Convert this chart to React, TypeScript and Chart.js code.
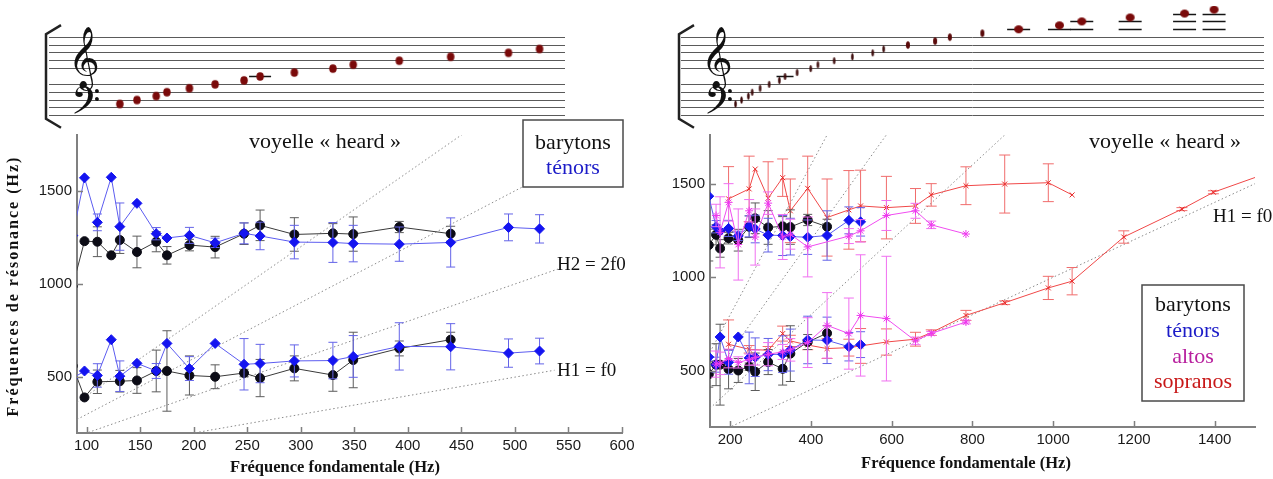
import React, { useEffect, useRef } from 'react';
import { Chart, registerables } from 'chart.js';
Chart.register(...registerables);

// ===================== DATA =====================
// Men (barytons / ténors): fundamental frequency f0 (Hz)
const menF0 = [87, 98, 110, 123, 131, 147, 165, 175, 196, 220, 247, 262, 294, 330, 349, 392, 440, 494, 523];
const barytonsR2 = [990, 1230, 1227, 1154, 1236, 1172, 1227, 1154, 1209, 1198, 1270, 1315, 1266, 1272, 1268, 1306, 1270, null, null];
const barytonsR2Err = [0, 0, 80, 0, 72, 85, 54, 47, 31, 58, 58, 82, 90, 52, 92, 30, 40, 0, 0];
const barytonsR1 = [560, 391, 475, null, 478, 482, 533, 533, 509, 502, 522, 495, 547, 511, 592, 654, 701, null, null];
const barytonsR1Err = [0, 0, 63, 0, 58, 69, 112, 216, 105, 64, 20, 100, 67, 87, 149, 40, 40, 0, 0];
const tenorsR2 = [1260, 1570, 1331, 1573, 1308, 1433, 1270, 1247, 1261, 1221, 1272, 1258, 1225, 1223, 1217, 1214, 1223, 1304, 1296];
const tenorsR2Err = [0, 0, 45, 0, 127, 0, 33, 0, 43, 25, 56, 74, 90, 107, 98, 92, 132, 72, 76];
const tenorsR1 = [494, 533, 509, 701, 505, 574, 533, 681, 546, 681, 569, 573, 587, 589, 611, 665, 663, 629, 640];
const tenorsR1Err = [0, 0, 63, 0, 82, 0, 40, 0, 64, 0, 138, 103, 86, 98, 112, 127, 124, 76, 69];

// Altos
const altosF0 = [165, 175, 196, 220, 247, 262, 294, 330, 349, 392, 440, 494, 523, 587, 659, 698, 784];
const altosR2 = [1330, 1240, 1400, 1175, 1355, 1215, 1396, 1215, 1230, 1162, null, 1220, 1248, 1330, 1355, 1280, 1231];
const altosR2Err = [60, 190, 100, 190, 60, 150, 60, 120, 80, 160, 0, 40, 60, 80, 40, 20, 0];
const altosR1 = [536, 540, 566, 545, 560, 571, 589, 601, 612, 651, 743, 699, 796, 779, 660, 700, 761];
const altosR1Err = [70, 60, 50, 30, 30, 40, 62, 40, 60, 133, 175, 190, 324, 333, 20, 10, 10];

// Sopranos
const sopranosF0 = [196, 247, 262, 294, 330, 349, 392, 440, 494, 523, 587, 659, 698, 784, 880, 988, 1047, 1175, 1319, 1397, 1568];
const sopranosR2 = [1419, 1472, 1578, 1422, 1532, 1355, 1475, 1319, 1360, 1381, 1372, 1381, 1440, 1489, 1498, 1505, 1440, null, null, null, null];
const sopranosR2Err = [172, 175, 0, 195, 100, 170, 172, 206, 210, 191, 167, 93, 60, 101, 155, 101, 0, 0, 0, 0, 0];
const sopranosR1 = [642, 615, null, 610, 699, 660, 638, 619, 624, 633, 654, 669, 704, 796, 864, 943, 979, 1215, 1364, 1454, 1585];
const sopranosR1Err = [130, 20, 0, 20, 40, 30, 25, 53, 45, 93, 70, 37, 15, 27, 10, 62, 73, 33, 8, 8, 0];

// Axis ticks
const leftXTicks = [100, 150, 200, 250, 300, 350, 400, 450, 500, 550, 600];
const rightXTicks = [200, 400, 600, 800, 1000, 1200, 1400];
const yTicks = [500, 1000, 1500];

// Harmonic reference lines Hn = n·f0 (rank, end of the drawn line in f0)
const harmonicRanks = [1, 2, 3, 4];
const leftHarmonicEnd = [537, 540, 600, 460];
const rightHarmonicEnd = [1500, 900, 600, 450];

// Staff notes (pitch names and their f0)
const leftStaffNotes = ['C3', 'D3', 'E3', 'F3', 'G3', 'A3', 'B3', 'C4', 'D4', 'E4', 'F4', 'G4', 'A4', 'B4', 'C5'];
const leftStaffF0 = [131, 147, 165, 175, 196, 220, 247, 262, 294, 330, 349, 392, 440, 494, 523];
const rightStaffNotes = ['C3', 'D3', 'E3', 'F3', 'G3', 'A3', 'B3', 'C4', 'D4', 'E4', 'F4', 'G4', 'A4', 'B4', 'C5', 'D5', 'E5', 'F5', 'G5', 'A5', 'B5', 'C6', 'D6', 'E6', 'F6'];
const rightStaffF0 = [131, 147, 165, 175, 196, 220, 247, 262, 294, 330, 349, 392, 440, 494, 523, 587, 659, 698, 784, 880, 988, 1047, 1175, 1319, 1397];
const staffLineSteps = [0, 2, 4, 6, 8, 12, 14, 16, 18, 20];

// ===================== HELPERS =====================
const SERIF = '"Liberation Serif", "Times New Roman", serif';
const SANS = '"Liberation Sans", Arial, sans-serif';

function pts(f0: number[], v: (number | null)[], e: number[]) {
  return f0.map((x, i) => ({ x, y: v[i], err: e[i] })).filter((p) => p.y !== null && p.y !== undefined);
}

type Sty = { line: string; fill: string; style: string; r: number; err: string; cap?: number };
const BAR: Sty = { line: '#3a3a3a', fill: '#0c0c16', style: 'circle', r: 4.5, err: '#5c5c5c' };
const TEN: Sty = { line: '#5c5cf0', fill: '#1414f0', style: 'rectRot', r: 5, err: '#6464e8' };
const ALT: Sty = { line: '#f04cf0', fill: '#ee38ee', style: 'star', r: 4, err: '#f070f0', cap: 5 };
const SOP: Sty = { line: '#f04848', fill: '#e82828', style: 'crossRot', r: 3.5, err: '#f06c6c', cap: 5.5 };

function series(label: string, data: any[], s: Sty) {
  return {
    label,
    data,
    showLine: true,
    borderColor: s.line,
    borderWidth: 1,
    backgroundColor: s.fill,
    pointBackgroundColor: s.fill,
    pointBorderColor: s.fill,
    pointBorderWidth: 1,
    pointStyle: s.style,
    pointRadius: s.r,
    errorColor: s.err,
    capHalf: s.cap ?? 4.5,
    tension: 0,
    clip: 0,
  };
}

function harmonics(xMin: number, ends: number[]) {
  return harmonicRanks.map((n, i) => ({
    label: 'H' + n,
    data: [
      { x: xMin, y: n * xMin },
      { x: ends[i], y: n * ends[i] },
    ],
    showLine: true,
    borderColor: '#8a8a8a',
    borderWidth: 1,
    borderDash: [1.5, 2.5],
    pointRadius: 0,
  }));
}

const errorBarPlugin = {
  id: 'errorBars',
  beforeDatasetDraw(chart: any, args: any) {
    const ds = chart.data.datasets[args.index];
    if (!ds.errorColor) return;
    const y = chart.scales.y;
    const a = chart.chartArea;
    const ctx = chart.ctx;
    ctx.save();
    ctx.beginPath();
    ctx.rect(a.left, a.top, a.right - a.left, a.bottom - a.top);
    ctx.clip();
    ctx.strokeStyle = ds.errorColor;
    ctx.lineWidth = 1;
    const cw = ds.capHalf;
    args.meta.data.forEach((pt: any, i: number) => {
      const d = ds.data[i];
      if (!d || !d.err) return;
      const t = y.getPixelForValue(d.y + d.err);
      const b = y.getPixelForValue(d.y - d.err);
      ctx.beginPath();
      ctx.moveTo(pt.x, t);
      ctx.lineTo(pt.x, b);
      ctx.moveTo(pt.x - cw, t);
      ctx.lineTo(pt.x + cw, t);
      ctx.moveTo(pt.x - cw, b);
      ctx.lineTo(pt.x + cw, b);
      ctx.stroke();
    });
    ctx.restore();
  },
};

const innerTicksPlugin = {
  id: 'innerTicks',
  afterDraw(chart: any) {
    const ctx = chart.ctx;
    const a = chart.chartArea;
    const xs = chart.scales.x;
    const ys = chart.scales.y;
    ctx.save();
    ctx.strokeStyle = '#808080';
    ctx.lineWidth = 1.5;
    ctx.beginPath();
    xs.ticks.forEach((t: any) => {
      const px = Math.round(xs.getPixelForValue(t.value)) + 0.5;
      ctx.moveTo(px, a.bottom);
      ctx.lineTo(px, a.bottom - 6);
    });
    ys.ticks.forEach((t: any) => {
      const py = Math.round(ys.getPixelForValue(t.value)) + 0.5;
      ctx.moveTo(a.left, py);
      ctx.lineTo(a.left + 6, py);
    });
    ctx.stroke();
    ctx.restore();
  },
};

type Txt = { text: string; x: number; y: number; font: string; color?: string; align?: CanvasTextAlign; rotate?: number; spacing?: string };
type Box = { x: number; y: number; w: number; h: number };

function makeDeco(boxes: Box[], texts: Txt[]) {
  return {
    id: 'deco',
    afterDraw(chart: any) {
      const ctx = chart.ctx;
      ctx.save();
      boxes.forEach((b) => {
        ctx.fillStyle = '#ffffff';
        ctx.fillRect(b.x, b.y, b.w, b.h);
        ctx.strokeStyle = '#4a4a4a';
        ctx.lineWidth = 1.5;
        ctx.strokeRect(b.x, b.y, b.w, b.h);
      });
      texts.forEach((t) => {
        ctx.save();
        ctx.translate(t.x, t.y);
        if (t.rotate) ctx.rotate(t.rotate);
        ctx.font = t.font;
        ctx.fillStyle = t.color || '#111111';
        ctx.textAlign = t.align || 'center';
        ctx.textBaseline = 'middle';
        (ctx as any).letterSpacing = t.spacing || '0px';
        ctx.fillText(t.text, 0, 0);
        ctx.restore();
      });
      ctx.restore();
    },
  };
}

function mainOptions(xMin: number, xMax: number, xTicks: number[], yMin: number, yMax: number, yWidth: number, xHeight: number, padRight: number) {
  const tickFont = { family: SANS, size: 15 };
  return {
    responsive: false,
    animation: false as const,
    devicePixelRatio: 1,
    layout: { padding: { top: 135, right: padRight, left: 0, bottom: 0 } },
    plugins: { legend: { display: false }, tooltip: { enabled: false } },
    scales: {
      x: {
        type: 'linear' as const,
        min: xMin,
        max: xMax,
        afterBuildTicks: (s: any) => {
          s.ticks = xTicks.map((v) => ({ value: v }));
        },
        afterFit: (s: any) => {
          s.height = xHeight;
        },
        grid: { display: true, drawOnChartArea: false, drawTicks: false },
        border: { display: true, color: '#808080', width: 2 },
        ticks: { color: '#1a1a1a', font: tickFont, padding: 4, maxRotation: 0, autoSkip: false, callback: (v: any) => String(v) },
      },
      y: {
        type: 'linear' as const,
        min: yMin,
        max: yMax,
        afterBuildTicks: (s: any) => {
          s.ticks = yTicks.map((v) => ({ value: v }));
        },
        afterFit: (s: any) => {
          s.width = yWidth;
        },
        grid: { display: true, drawOnChartArea: false, drawTicks: false },
        border: { display: true, color: '#808080', width: 2 },
        ticks: { color: '#1a1a1a', font: tickFont, padding: 5, autoSkip: false, callback: (v: any) => String(v) },
      },
    },
  };
}

// --------- staff ---------
function noteStep(n: string) {
  const L = 'CDEFGAB'.indexOf(n[0]);
  const o = parseInt(n.slice(1), 10);
  return L + 7 * o - 18; // G2 (bottom line of bass staff) = 0
}

function ellipseImg(w: number, h: number, color: string) {
  const c = document.createElement('canvas');
  c.width = Math.ceil(w) + 2;
  c.height = Math.ceil(h) + 2;
  const g = c.getContext('2d')!;
  g.fillStyle = color;
  g.beginPath();
  g.ellipse(c.width / 2, c.height / 2, w / 2, h / 2, 0, 0, Math.PI * 2);
  g.fill();
  return c;
}

type ClefCfg = { clefX: number; bracketX: number };

function staffPlugin(cfg: ClefCfg) {
  return {
    id: 'staffDeco',
    beforeDatasetsDraw(chart: any) {
      const ctx = chart.ctx;
      const ys = chart.scales.y;
      const meta = chart.getDatasetMeta(0);
      const ds = chart.data.datasets[0];
      ctx.save();
      ctx.strokeStyle = '#151515';
      ctx.lineWidth = 1.5;
      meta.data.forEach((pt: any, i: number) => {
        const s = ds.data[i].y;
        const img = ds.images[i];
        const hw = img.width / 2 + (s === 10 && img.width < 5 ? 3 : 6);
        const ledgers: number[] = [];
        if (s === 10) ledgers.push(10);
        for (let k = 22; k <= s; k += 2) ledgers.push(k);
        ledgers.forEach((k) => {
          const py = Math.round(ys.getPixelForValue(k)) + 0.5;
          ctx.beginPath();
          ctx.moveTo(pt.x - hw, py);
          ctx.lineTo(pt.x + hw, py);
          ctx.stroke();
        });
      });
      ctx.restore();
    },
    afterDraw(chart: any) {
      const ctx = chart.ctx;
      const ys = chart.scales.y;
      const top = ys.getPixelForValue(20);
      const bot = ys.getPixelForValue(0);
      ctx.save();
      // bracket
      ctx.strokeStyle = '#222';
      ctx.lineWidth = 2.5;
      const bx = cfg.bracketX;
      ctx.beginPath();
      ctx.moveTo(bx + 15, top - 12);
      ctx.lineTo(bx, top - 3);
      ctx.lineTo(bx, bot + 3);
      ctx.lineTo(bx + 15, bot + 12);
      ctx.stroke();
      // clefs
      ctx.fillStyle = '#111';
      ctx.textAlign = 'center';
      ctx.textBaseline = 'alphabetic';
      ctx.font = '54px "DejaVu Sans", "Noto Sans", serif';
      ctx.fillText('\u{1D11E}', cfg.clefX, ys.getPixelForValue(14) + 14);
      ctx.font = '46px "DejaVu Sans", "Noto Sans", serif';
      ctx.fillText('\u{1D122}', cfg.clefX + 2, bot + 5);
      ctx.restore();
    },
  };
}

function staffConfig(notes: string[], f0: number[], xMin: number, xMax: number, padL: number, padR: number, imgFor: (f: number) => HTMLCanvasElement, clef: ClefCfg) {
  const images = f0.map((f) => imgFor(f));
  return {
    type: 'scatter' as const,
    data: {
      datasets: [
        {
          data: notes.map((n, i) => ({ x: f0[i], y: noteStep(n) })),
          images,
          pointStyle: (c: any) => images[c.dataIndex] || images[0],
          pointRadius: 5,
          showLine: false,
        } as any,
      ],
    },
    options: {
      responsive: false,
      animation: false as const,
      devicePixelRatio: 1,
      layout: { padding: { left: padL, right: padR, top: 2, bottom: 3 } },
      plugins: { legend: { display: false }, tooltip: { enabled: false } },
      scales: {
        x: { type: 'linear' as const, min: xMin, max: xMax, display: false },
        y: {
          type: 'linear' as const,
          min: -2.09,
          max: 27.92,
          afterFit: (s: any) => {
            s.width = 0;
          },
          afterBuildTicks: (s: any) => {
            s.ticks = staffLineSteps.map((v) => ({ value: v }));
          },
          ticks: { display: false },
          grid: { color: '#5a5a5a', lineWidth: 1, drawTicks: false },
          border: { display: false },
        },
      },
    },
    plugins: [staffPlugin(clef)],
  };
}

// ===================== APP =====================
export default function App() {
  const lMain = useRef<HTMLCanvasElement>(null);
  const rMain = useRef<HTMLCanvasElement>(null);
  const lStaff = useRef<HTMLCanvasElement>(null);
  const rStaff = useRef<HTMLCanvasElement>(null);

  useEffect(() => {
    const xTitleFont = 'bold 16.5px ' + SERIF;
    const annFont = '22px ' + SERIF;
    const legFont = '22px ' + SERIF;
    const hFont = '19px ' + SERIF;

    const left = new Chart(lMain.current!, {
      type: 'scatter',
      data: {
        datasets: [
          series('ténors R2', pts(menF0, tenorsR2, tenorsR2Err), TEN),
          series('ténors R1', pts(menF0, tenorsR1, tenorsR1Err), TEN),
          series('barytons R2', pts(menF0, barytonsR2, barytonsR2Err), BAR),
          series('barytons R1', pts(menF0, barytonsR1, barytonsR1Err), BAR),
          ...harmonics(91, leftHarmonicEnd),
        ] as any,
      },
      options: mainOptions(91, 600, leftXTicks, 200, 1800, 77, 46, 18) as any,
      plugins: [
        errorBarPlugin,
        innerTicksPlugin,
        makeDeco(
          [{ x: 523, y: 120, w: 100, h: 67 }],
          [
            { text: 'voyelle « heard »', x: 325, y: 142, font: annFont },
            { text: 'barytons', x: 573, y: 143, font: legFont, color: '#111' },
            { text: 'ténors', x: 573, y: 168, font: legFont, color: '#1c1cc8' },
            { text: 'H2 = 2f0', x: 557, y: 265, font: hFont, align: 'left' },
            { text: 'H1 = f0', x: 557, y: 371, font: hFont, align: 'left' },
            { text: 'Fréquence fondamentale (Hz)', x: 335, y: 468, font: xTitleFont },
            { text: 'Fréquences de résonance (Hz)', x: 14, y: 286, font: 'bold 16px ' + SERIF, rotate: -Math.PI / 2, spacing: '2px' },
          ]
        ),
      ],
    });

    const right = new Chart(rMain.current!, {
      type: 'scatter',
      data: {
        datasets: [
          series('altos R2', pts(altosF0, altosR2, altosR2Err), ALT),
          series('altos R1', pts(altosF0, altosR1, altosR1Err), ALT),
          series('ténors R2', pts(menF0, tenorsR2, tenorsR2Err), TEN),
          series('ténors R1', pts(menF0, tenorsR1, tenorsR1Err), TEN),
          series('barytons R2', pts(menF0, barytonsR2, barytonsR2Err), BAR),
          series('barytons R1', pts(menF0, barytonsR1, barytonsR1Err), BAR),
          series('sopranos R2', pts(sopranosF0, sopranosR2, sopranosR2Err), SOP),
          series('sopranos R1', pts(sopranosF0, sopranosR1, sopranosR1Err), SOP),
          ...harmonics(150, rightHarmonicEnd),
        ] as any,
      },
      options: mainOptions(150, 1500, rightXTicks, 200, 1760, 70, 52, 18) as any,
      plugins: [
        errorBarPlugin,
        innerTicksPlugin,
        makeDeco(
          [{ x: 502, y: 285, w: 102, h: 116 }],
          [
            { text: 'voyelle « heard »', x: 525, y: 142, font: annFont },
            { text: 'H1 = f0', x: 573, y: 217, font: hFont, align: 'left' },
            { text: 'barytons', x: 553, y: 305, font: legFont, color: '#111' },
            { text: 'ténors', x: 553, y: 331, font: legFont, color: '#1c1cc8' },
            { text: 'altos', x: 553, y: 357, font: legFont, color: '#b8209e' },
            { text: 'sopranos', x: 553, y: 382, font: legFont, color: '#c81818' },
            { text: 'Fréquence fondamentale (Hz)', x: 326, y: 464, font: xTitleFont },
          ]
        ),
      ],
    });

    const leftImg = ellipseImg(7.5, 8.5, '#7a0a0a');
    const lStaffChart = new Chart(
      lStaff.current!,
      staffConfig(leftStaffNotes, leftStaffF0, 64.85, 546.8, 49, 75, () => leftImg, { clefX: 84, bracketX: 46 }) as any
    );
    const smallImg = ellipseImg(2.5, 7, '#3a0808');
    const midImg = ellipseImg(4, 7.5, '#5a0a0a');
    const bigImg = ellipseImg(9, 8, '#7a0a0a');
    const rStaffChart = new Chart(
      rStaff.current!,
      staffConfig(rightStaffNotes, rightStaffF0, -13.2, 1529.1, 41, 9, (f) => (f < 560 ? smallImg : f < 850 ? midImg : bigImg), { clefX: 77, bracketX: 39 }) as any
    );

    return () => {
      left.destroy();
      right.destroy();
      lStaffChart.destroy();
      rStaffChart.destroy();
    };
  }, []);

  return (
    <div style={{ position: 'absolute', left: 0, top: 0, width: 1273, height: 479, background: '#ffffff', overflow: 'hidden' }}>
      <canvas ref={lMain} width={640} height={479} style={{ position: 'absolute', left: 0, top: 0, width: 640, height: 479 }} />
      <canvas ref={rMain} width={633} height={479} style={{ position: 'absolute', left: 640, top: 0, width: 633, height: 479 }} />
      <canvas ref={lStaff} width={640} height={130} style={{ position: 'absolute', left: 0, top: 0, width: 640, height: 130 }} />
      <canvas ref={rStaff} width={633} height={130} style={{ position: 'absolute', left: 640, top: 0, width: 633, height: 130 }} />
    </div>
  );
}
